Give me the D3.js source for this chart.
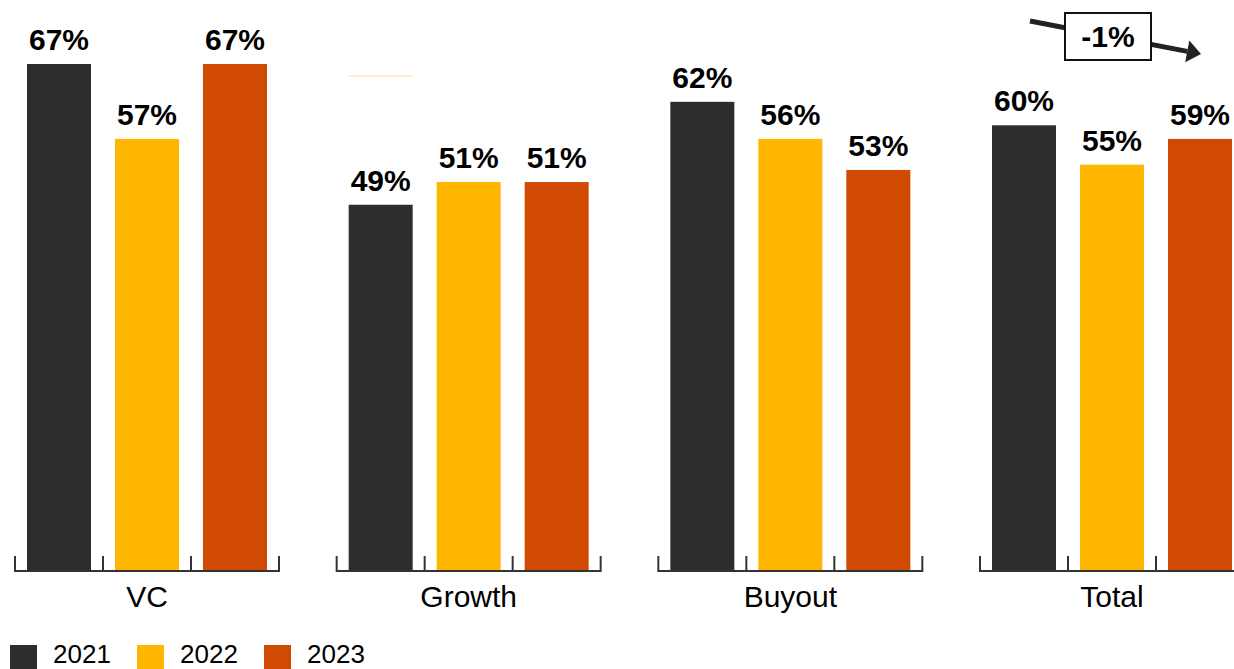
<!DOCTYPE html>
<html>
<head>
<meta charset="utf-8">
<script src="https://cdn.jsdelivr.net/npm/d3@7/dist/d3.min.js"></script>
<style>
  html, body { margin: 0; padding: 0; background: #fff; }
  svg { display: block; font-family: "Liberation Sans", Arial, Helvetica, sans-serif; }
</style>
</head>
<body>
<svg id="chart" width="1234" height="669"></svg>
<script>
// ---- data ----
const categories = ["VC", "Growth", "Buyout", "Total"];
const years = ["2021", "2022", "2023"];
const colors = ["#2D2D2D", "#FFB600", "#D04A02"];
// bar heights (percent)
const values2021 = [67.0, 48.4, 62.0, 58.9];
const values2022 = [57.1, 51.4, 57.1, 53.7];
const values2023 = [67.0, 51.4, 53.0, 57.1];
// labels printed above the bars
const labels2021 = ["67%", "49%", "62%", "60%"];
const labels2022 = ["57%", "51%", "56%", "55%"];
const labels2023 = ["67%", "51%", "53%", "59%"];
const changeLabel = "-1%";
const ghostGrowth = 65.4; // faint line visible above Growth 2021

const seriesValues = [values2021, values2022, values2023];
const seriesLabels = [labels2021, labels2022, labels2023];

// ---- layout ----
const svg = d3.select("#chart");
const baseline = 571;

const gx = d3.scaleBand().domain(categories).range([15, 1244])
  .paddingInner(0.17927).paddingOuter(0);
const x = d3.scaleBand().domain(years).range([0, gx.bandwidth()])
  .paddingInner(0.2727).paddingOuter(0.1364);
const y = d3.scaleLinear().domain([0, 67]).range([baseline, 64]);

const step = x.step();

categories.forEach((cat, ci) => {
  const g = svg.append("g").attr("transform", `translate(${gx(cat)},0)`);

  if (cat === "Growth") {
    g.append("line")
      .attr("x1", x("2021")).attr("x2", x("2021") + x.bandwidth())
      .attr("y1", y(ghostGrowth)).attr("y2", y(ghostGrowth))
      .attr("stroke", "#FFE9B0").attr("stroke-width", 1.5);
  }

  years.forEach((yr, si) => {
    const v = seriesValues[si][ci];
    g.append("rect")
      .attr("x", x(yr)).attr("width", x.bandwidth())
      .attr("y", y(v)).attr("height", baseline - y(v))
      .attr("fill", colors[si]);
    g.append("text")
      .attr("x", x(yr) + x.bandwidth() / 2)
      .attr("y", y(v) - 14)
      .attr("text-anchor", "middle")
      .attr("font-size", 30).attr("font-weight", "bold")
      .attr("fill", "#000")
      .text(seriesLabels[si][ci]);
  });

  const ticks = d3.range(years.length + 1).map(i => i * step);
  let path = `M${ticks[0]},${baseline - 15}V${baseline}H${ticks[ticks.length - 1]}V${baseline - 15}`;
  ticks.slice(1, -1).forEach(t => { path += `M${t},${baseline}V${baseline - 15}`; });
  g.append("path").attr("d", path)
    .attr("fill", "none").attr("stroke", "#333").attr("stroke-width", 2);

  g.append("text")
    .attr("x", gx.bandwidth() / 2).attr("y", 607)
    .attr("text-anchor", "middle")
    .attr("font-size", 30).attr("fill", "#000")
    .text(cat);
});

// ---- annotation on Total ----
const tx = gx("Total");
const a0 = [tx + 50, 21], a1 = [tx + 221, 54];
const ang = Math.atan2(a1[1] - a0[1], a1[0] - a0[0]);
const headLen = 14, headW = 11;
const lineEnd = [a1[0] - headLen * Math.cos(ang), a1[1] - headLen * Math.sin(ang)];
svg.append("line")
  .attr("x1", a0[0]).attr("y1", a0[1]).attr("x2", lineEnd[0]).attr("y2", lineEnd[1])
  .attr("stroke", "#222").attr("stroke-width", 5);
const px = -Math.sin(ang), py = Math.cos(ang);
svg.append("polygon")
  .attr("points", [
    [a1[0], a1[1]],
    [lineEnd[0] + px * headW, lineEnd[1] + py * headW],
    [lineEnd[0] - px * headW, lineEnd[1] - py * headW]
  ].map(p => p.join(",")).join(" "))
  .attr("fill", "#222");
svg.append("rect")
  .attr("x", tx + 85).attr("y", 13).attr("width", 86).attr("height", 47)
  .attr("fill", "#fff").attr("stroke", "#111").attr("stroke-width", 2);
svg.append("text")
  .attr("x", tx + 128).attr("y", 47)
  .attr("text-anchor", "middle").attr("font-size", 30).attr("font-weight", "bold")
  .text(changeLabel);

// ---- legend ----
const legend = svg.append("g");
years.forEach((yr, i) => {
  const lg = legend.append("g").attr("transform", `translate(${10 + i * 127},645)`);
  lg.append("rect").attr("width", 27).attr("height", 27).attr("fill", colors[i]);
  lg.append("text").attr("x", 43).attr("y", 17.5)
    .attr("font-size", 26).attr("fill", "#000").text(yr);
});
</script>
</body>
</html>
